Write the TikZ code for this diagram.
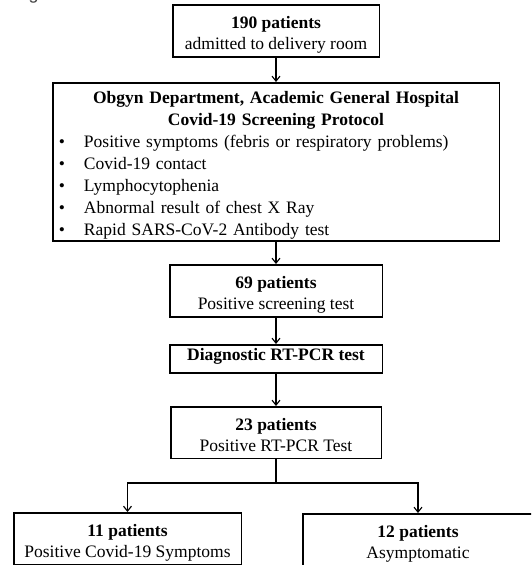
\documentclass[tikz,border=0pt]{standalone}
\usepackage{fontspec}
\setmainfont{Liberation Serif}
\newfontfamily\capfont{Liberation Sans}
\usetikzlibrary{arrows.meta}
\setlength{\parindent}{0pt}
% struts for the first and last line of a box
\newcommand{\topstrut}{\rule{0pt}{19.25pt}}
\newcommand{\botstrut}{\rule[-3.5pt]{0pt}{0pt}}
\newcommand{\bul}{\makebox[25.25pt][l]{\textbullet}}

\begin{document}
\begin{tikzpicture}[x=1pt,y=1pt,
    stage/.style={draw,line width=1.5pt,align=center,inner xsep=4pt,inner ysep=4pt,
      anchor=north,font=\fontsize{17.5}{21}\selectfont},
    link/.style={line width=1.1pt,-{Straight Barb[length=5pt,width=8pt]}}]
  \clip (0,0) rectangle (531,-565);
  \node[anchor=base west,text=black!75,font=\capfont\fontsize{18}{20}\selectfont] (caption) at (10,1) {Figure 1. Research Flowchart};
  % main column
  \node[stage,minimum width=206.5pt] (admit) at (276,-4)
    {\topstrut\textbf{190 patients}\\admitted to delivery room\botstrut};
  \node[stage,align=left,text width=434.5pt,inner xsep=6pt,inner ysep=1.5pt,
    font=\fontsize{17.5}{22}\selectfont] (protocol) at (276,-82)
    {{\centering\bfseries\topstrut Obgyn Department, Academic General Hospital\par
      Covid-19 Screening Protocol\par}
     \bul Positive symptoms (febris or respiratory problems)\par
     \bul Covid-19 contact\par
     \bul Lymphocytophenia\par
     \bul Abnormal result of chest X Ray\par
     \bul Rapid SARS-CoV-2 Antibody test};
  \node[stage,minimum width=212.5pt] (screen) at (276,-264)
    {\topstrut\textbf{69 patients}\\Positive screening test\botstrut};
  \node[stage,minimum width=212.5pt] (pcr) at (276,-344)
    {\rule[-8pt]{0pt}{14pt}\textbf{Diagnostic RT-PCR test}};
  \node[stage,minimum width=210.5pt] (positive) at (276,-406)
    {\topstrut\textbf{23 patients}\\Positive RT-PCR Test\botstrut};
  % two groups
  \node[stage,minimum width=227.5pt] (symptoms) at (127.5,-512)
    {\topstrut\textbf{11 patients}\\Positive Covid-19 Symptoms\botstrut};
  \node[stage,minimum width=230.5pt] (asymp) at (418,-513)
    {\topstrut\textbf{12 patients}\\Asymptomatic\botstrut};
  \coordinate (split) at (276,-483);
  \draw[link] (admit) -- (protocol);
  \draw[link] (protocol) -- (screen);
  \draw[link] (screen) -- (pcr);
  \draw[link] (pcr) -- (positive);
  \draw[line width=1.1pt] (positive) -- (split);
  \draw[link] (split) -| (symptoms);
  \draw[link] (split) -| (asymp);
\end{tikzpicture}
\end{document}
